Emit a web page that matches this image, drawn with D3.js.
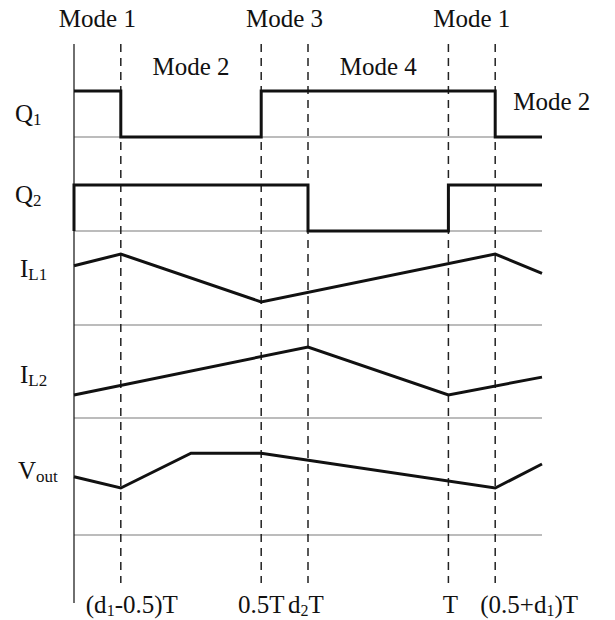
<!DOCTYPE html>
<html>
<head>
<meta charset="utf-8">
<script src="https://cdn.jsdelivr.net/npm/d3@7/dist/d3.min.js"></script>
<style>
  body { margin: 0; background: #fff; }
  text { font-family: "Liberation Serif", "Times New Roman", serif; fill: #111; }
</style>
</head>
<body>
<div id="chart"></div>
<script>
// switching instants, in units of the period T
var eventTimes = [0.125, 0.5, 0.625, 1.0, 1.125];
// label parts: odd entries are subscripts
var eventLabels = [["(d", "1", "-0.5)T"], ["0.5T"], ["d", "2", "T"], ["T"], ["(0.5+d", "1", ")T"]];

var modeNames = ["Mode 1", "Mode 2", "Mode 3", "Mode 4", "Mode 1", "Mode 2"];
var modeStart = [0, 0.125, 0.5, 0.625, 1.0, 1.125];
var modeEnd = [0.125, 0.5, 0.625, 1.0, 1.125, 1.25];

// gate signals (0 = off, 1 = on)
var q1Time = [0, 0.125, 0.5, 1.125, 1.25];
var q1State = [1, 0, 1, 0, 0];
var q2Time = [0, 0, 0.625, 1.0, 1.25];
var q2State = [0, 1, 0, 1, 1];

// analog waveforms, arbitrary level 0..100
var iL1Time = [0, 0.125, 0.5, 1.125, 1.25];
var iL1Value = [63, 75.5, 24.5, 75.5, 55];
var iL2Time = [0, 0.625, 1.0, 1.25];
var iL2Value = [24.5, 75.5, 24.5, 43.5];
var vOutTime = [0, 0.125, 0.3125, 0.5, 1.125, 1.25];
var vOutValue = [62, 50, 87, 87, 50, 75.5];

var rowNames = [["Q", "1"], ["Q", "2"], ["I", "L1"], ["I", "L2"], ["V", "out"]];

var width = 615, height = 620;
var svg = d3.select("#chart").append("svg")
  .attr("width", width)
  .attr("height", height);

var x = d3.scaleLinear().domain([0, 1.25]).range([74, 542]);

// row layout
var rows = [
  {base: 137, labelY: 122, labelX: 15, time: q1Time, val: q1State, gate: true},
  {base: 231, labelY: 203, labelX: 15, time: q2Time, val: q2State, gate: true},
  {base: 325, labelY: 277, labelX: 20, time: iL1Time, val: iL1Value},
  {base: 418, labelY: 383, labelX: 20, time: iL2Time, val: iL2Value},
  {base: 535, labelY: 479, labelX: 18, time: vOutTime, val: vOutValue}
];

// baselines
svg.append("g").selectAll("line")
  .data(rows)
  .enter().append("line")
  .attr("x1", x(0)).attr("x2", x(1.25))
  .attr("y1", function(d){ return d.base; })
  .attr("y2", function(d){ return d.base; })
  .attr("stroke", "#7a7a7a")
  .attr("stroke-width", 1.2);

// vertical axis
svg.append("line")
  .attr("x1", x(0)).attr("x2", x(0))
  .attr("y1", 44).attr("y2", 603)
  .attr("stroke", "#222")
  .attr("stroke-width", 1.3);

// dashed event lines
svg.append("g").selectAll("line")
  .data(eventTimes)
  .enter().append("line")
  .attr("x1", function(d){ return x(d); })
  .attr("x2", function(d){ return x(d); })
  .attr("y1", 44).attr("y2", 583)
  .attr("stroke", "#222")
  .attr("stroke-width", 1.5)
  .attr("stroke-dasharray", "8,6");

// waveforms
rows.forEach(function(r){
  var y = r.gate
    ? d3.scaleLinear().domain([0, 1]).range([r.base, r.base - 46])
    : d3.scaleLinear().domain([0, 100]).range([r.base, r.base - 94]);
  var line = d3.line()
    .x(function(d, i){ return x(r.time[i]); })
    .y(function(d){ return y(d); })
    .curve(r.gate ? d3.curveStepAfter : d3.curveLinear);
  svg.append("path")
    .attr("d", line(r.val))
    .attr("fill", "none")
    .attr("stroke", "#111")
    .attr("stroke-width", 3)
    .attr("stroke-linejoin", "miter");
});

// row labels with subscripts
rows.forEach(function(r, i){
  var t = svg.append("text")
    .attr("x", r.labelX)
    .attr("y", r.labelY)
    .attr("font-size", 25);
  t.append("tspan").text(rowNames[i][0]);
  t.append("tspan")
    .attr("font-size", 17)
    .attr("dy", 3)
    .text(rowNames[i][1]);
});

// mode labels
modeNames.forEach(function(m, i){
  var mid = (x(modeStart[i]) + x(modeEnd[i])) / 2;
  var last = i == modeNames.length - 1;
  svg.append("text")
    .attr("x", last ? x(modeStart[i]) + 18 : mid)
    .attr("y", last ? 110 : (i % 2 == 0 ? 27 : 75))
    .attr("text-anchor", last ? "start" : "middle")
    .attr("font-size", 25)
    .text(m);
});

// time labels along the bottom
var labelDx = [11, 0, -2, 2, 34];
eventLabels.forEach(function(parts, i){
  var t = svg.append("text")
    .attr("x", x(eventTimes[i]) + labelDx[i])
    .attr("y", 613)
    .attr("text-anchor", "middle")
    .attr("font-size", 25);
  parts.forEach(function(p, j){
    var s = t.append("tspan").text(p);
    if (j % 2 == 1) s.attr("font-size", 16).attr("dy", 3);
    else if (j > 0) s.attr("dy", -3);
  });
});
</script>
</body>
</html>
